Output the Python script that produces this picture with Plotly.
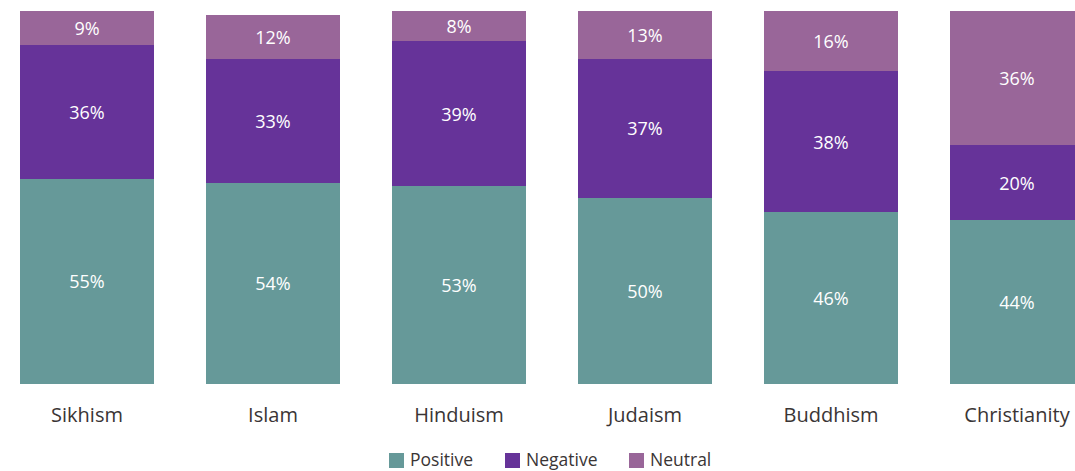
import plotly.graph_objects as go

religions = ["Sikhism", "Islam", "Hinduism", "Judaism", "Buddhism", "Christianity"]
positive = [55, 54, 53, 50, 46, 44]
negative = [36, 33, 39, 37, 38, 20]
neutral = [9, 12, 8, 13, 16, 36]

series = [
    ("Positive", positive, "#669999"),
    ("Negative", negative, "#663399"),
    ("Neutral", neutral, "#996699"),
]

FONT = "Open Sans"
TEXT_COLOR = "#3a3535"
W, H = 1075, 471
M_TOP, M_BOTTOM = 11, 87
PLOT_H = H - M_TOP - M_BOTTOM

fig = go.Figure()
for name, vals, color in series:
    fig.add_trace(go.Bar(
        name=name,
        x=list(range(len(religions))),
        y=vals,
        marker=dict(color=color, line=dict(width=0)),
        text=[f"{v}%" for v in vals],
        textposition="inside",
        insidetextanchor="middle",
        textangle=0,
        textfont=dict(family=FONT, size=18, color="white"),
        hoverinfo="skip",
        showlegend=False,
    ))

# Legend drawn as swatches + labels below the plot area (pixel offsets -> paper coords)
def px_x(px):
    return px / W

def px_y(py):
    return (H - M_BOTTOM - py) / PLOT_H

legend_items = [("Positive", "#669999", 389), ("Negative", "#663399", 505), ("Neutral", "#996699", 629)]
sw = 15
sw_top = 453
for label, color, left in legend_items:
    fig.add_shape(
        type="rect", xref="paper", yref="paper",
        x0=px_x(left), x1=px_x(left + sw),
        y0=px_y(sw_top + sw), y1=px_y(sw_top),
        fillcolor=color, line=dict(width=0), layer="above",
    )
    fig.add_annotation(
        xref="paper", yref="paper",
        x=px_x(left + sw + 4), y=px_y(sw_top + 6),
        xanchor="left", yanchor="middle",
        text=label, showarrow=False,
        font=dict(family=FONT, size=17.5, color=TEXT_COLOR),
    )

fig.update_layout(
    barmode="stack",
    bargap=0.28,
    width=W,
    height=H,
    margin=dict(l=0, r=0, t=M_TOP, b=M_BOTTOM),
    paper_bgcolor="white",
    plot_bgcolor="white",
    font=dict(family=FONT, color=TEXT_COLOR),
    showlegend=False,
    xaxis=dict(
        tickmode="array",
        tickvals=list(range(len(religions))),
        ticktext=religions,
        range=[-0.4677, 5.3118],
        showgrid=False, zeroline=False, showline=False,
        ticks="", ticklabelstandoff=17,
        tickfont=dict(family=FONT, size=20, color=TEXT_COLOR),
    ),
    yaxis=dict(
        range=[0, 100],
        visible=False,
        showgrid=False, zeroline=False,
    ),
)

fig.write_html("out.html")
